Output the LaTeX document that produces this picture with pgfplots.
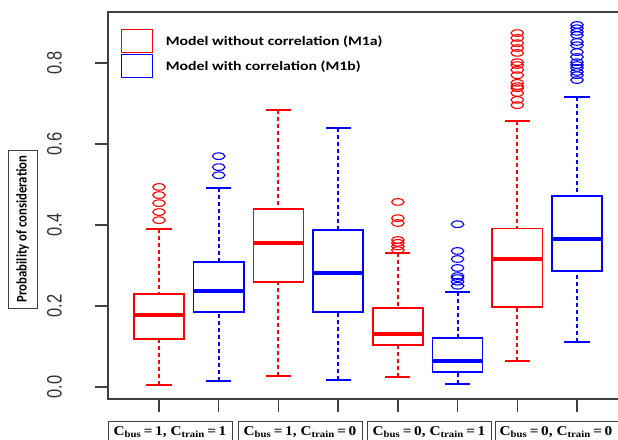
\documentclass[border=0pt]{standalone}
\usepackage{fontspec}
\setmainfont{Liberation Serif}
\newfontfamily\carlito{Carlito}
\newfontfamily\arialf{Liberation Sans}
\usepackage{graphicx}
\usepackage{pgfplots}
\pgfplotsset{compat=1.18}
\usepgfplotslibrary{statistics}
\pgfplotsset{
  rbox/.style={draw=red, line width=1.5bp, mark=o, mark size=3.3bp,
    mark options={solid, xscale=1.9, line width=1.1bp}, forget plot},
  bbox/.style={draw=blue, line width=1.5bp, mark=o, mark size=3.3bp,
    mark options={solid, xscale=1.9, line width=1.1bp}, forget plot},
}
\begin{document}
\begin{tikzpicture}
\begin{axis}[
  at={(0,0)}, anchor=south west,
  scale only axis, width=510bp, height=387bp,
  xmin=0.146, xmax=8.687, ymin=-0.0296, ymax=0.926,
  clip=false,
  axis line style={draw=none},
  xtick={1,2,3,4,5,6,7,8}, xticklabels={},
  ytick={0,0.2,0.4,0.6,0.8},
  yticklabels={\scalebox{1}[1.27]{0.0},\scalebox{1}[1.27]{0.2},\scalebox{1}[1.27]{0.4},\scalebox{1}[1.27]{0.6},\scalebox{1}[1.27]{0.8}},
  tick pos=left, tick align=outside,
  major tick length=13bp,
  every tick/.style={line width=1.5bp, black!75},
  yticklabel style={rotate=90, anchor=south, inner sep=0pt,
    font=\arialf\fontsize{16.5}{16.5}\selectfont, text=black!80},
  yticklabel shift=33bp,
  boxplot/draw direction=y,
  boxplot/every median/.style={line width=3.5bp},
  boxplot/draw/lower whisker/.code={%
    \draw[dash pattern=on 4bp off 3bp, line width=2bp]
      (boxplot box cs:\pgfplotsboxplotvalue{lower whisker},0.5) --
      (boxplot box cs:\pgfplotsboxplotvalue{lower quartile},0.5);
    \draw[solid, line width=1.5bp]
      (boxplot whisker cs:\pgfplotsboxplotvalue{lower whisker},0) --
      (boxplot whisker cs:\pgfplotsboxplotvalue{lower whisker},1);
  },
  boxplot/draw/upper whisker/.code={%
    \draw[dash pattern=on 4bp off 3bp, line width=2bp]
      (boxplot box cs:\pgfplotsboxplotvalue{upper whisker},0.5) --
      (boxplot box cs:\pgfplotsboxplotvalue{upper quartile},0.5);
    \draw[solid, line width=1.5bp]
      (boxplot whisker cs:\pgfplotsboxplotvalue{upper whisker},0) --
      (boxplot whisker cs:\pgfplotsboxplotvalue{upper whisker},1);
  },
  legend image code/.code={\draw[#1, line width=1bp] (0bp,-11.5bp) rectangle (31bp,11.5bp); \path (44bp,0bp);},
  legend style={at={(0.0255,0.956)}, anchor=north west, draw=none, fill=none,
    inner sep=0pt, row sep=1bp, nodes={inner sep=0pt},
    font=\carlito\bfseries\fontsize{13}{15}\selectfont, cells={anchor=west}},
]
\addlegendimage{red}
\addlegendentry{\scalebox{1.22}[1]{Model without correlation (M1a)}}
\addlegendimage{blue}
\addlegendentry{\scalebox{1.22}[1]{Model with correlation (M1b)}}

\addplot[rbox, boxplot prepared={draw position=1, lower whisker=0.005, lower quartile=0.119,
  median=0.178, upper quartile=0.230, upper whisker=0.390, box extend=0.84, whisker extend=0.42}]
  table[row sep=\\, y index=0] {data\\0.494\\0.474\\0.454\\0.432\\0.412\\};
\addplot[bbox, boxplot prepared={draw position=2, lower whisker=0.015, lower quartile=0.185,
  median=0.237, upper quartile=0.309, upper whisker=0.491, box extend=0.84, whisker extend=0.42}]
  table[row sep=\\, y index=0] {data\\0.570\\0.543\\0.523\\};
\addplot[rbox, boxplot prepared={draw position=3, lower whisker=0.027, lower quartile=0.259,
  median=0.356, upper quartile=0.439, upper whisker=0.684, box extend=0.84, whisker extend=0.42}]
  coordinates {};
\addplot[bbox, boxplot prepared={draw position=4, lower whisker=0.017, lower quartile=0.185,
  median=0.281, upper quartile=0.388, upper whisker=0.640, box extend=0.84, whisker extend=0.42}]
  coordinates {};
\addplot[rbox, boxplot prepared={draw position=5, lower whisker=0.025, lower quartile=0.104,
  median=0.131, upper quartile=0.195, upper whisker=0.331, box extend=0.84, whisker extend=0.42}]
  table[row sep=\\, y index=0] {data\\0.457\\0.417\\0.405\\0.363\\0.356\\0.347\\0.338\\};
\addplot[bbox, boxplot prepared={draw position=6, lower whisker=0.007, lower quartile=0.037,
  median=0.064, upper quartile=0.121, upper whisker=0.235, box extend=0.84, whisker extend=0.42}]
  table[row sep=\\, y index=0] {data\\0.402\\0.336\\0.316\\0.294\\0.274\\0.269\\0.260\\0.250\\};
\addplot[rbox, boxplot prepared={draw position=7, lower whisker=0.064, lower quartile=0.198,
  median=0.316, upper quartile=0.392, upper whisker=0.657, box extend=0.84, whisker extend=0.42}]
  table[row sep=\\, y index=0] {data\\0.874\\0.862\\0.849\\0.837\\0.825\\0.802\\0.795\\0.783\\0.770\\0.751\\0.743\\0.738\\0.726\\0.709\\0.696\\};
\addplot[bbox, boxplot prepared={draw position=8, lower whisker=0.111, lower quartile=0.286,
  median=0.365, upper quartile=0.472, upper whisker=0.716, box extend=0.84, whisker extend=0.42}]
  table[row sep=\\, y index=0] {data\\0.894\\0.886\\0.877\\0.869\\0.852\\0.844\\0.827\\0.815\\0.802\\0.795\\0.788\\0.778\\0.770\\0.758\\};

\draw[line width=1.5bp, black!75] (rel axis cs:1,1) -- (rel axis cs:0,1) -- (rel axis cs:0,0) -- (rel axis cs:1,0);
\end{axis}

% x category labels
\begin{scope}[line width=1bp, black!75]
\draw (0bp,-22bp) rectangle (124bp,-50bp);
\draw (130bp,-22bp) rectangle (254bp,-50bp);
\draw (259bp,-22bp) rectangle (383bp,-50bp);
\draw (387bp,-22bp) rectangle (511bp,-50bp);
\end{scope}
\begin{scope}[every node/.style={anchor=base, inner sep=0pt, font=\bfseries\fontsize{13.5}{15}\selectfont}]
\node at (62bp,-36bp) {\scalebox{1.14}[1]{C\textsubscript{bus}\,=\,1, C\textsubscript{train}\,=\,1}};
\node at (192bp,-36bp) {\scalebox{1.14}[1]{C\textsubscript{bus}\,=\,1, C\textsubscript{train}\,=\,0}};
\node at (321bp,-36bp) {\scalebox{1.14}[1]{C\textsubscript{bus}\,=\,0, C\textsubscript{train}\,=\,1}};
\node at (448bp,-36bp) {\scalebox{1.14}[1]{C\textsubscript{bus}\,=\,0, C\textsubscript{train}\,=\,0}};
\end{scope}

% y label
\draw[line width=0.8bp, black!75] (-100bp,91bp) rectangle (-71bp,249bp);
\node[rotate=90, inner sep=0pt, font=\carlito\bfseries\fontsize{12.8}{14}\selectfont] at (-85.5bp,170bp) {\scalebox{1}[1.15]{Probability of consideration}};

\pgfresetboundingbox
\path[use as bounding box] (-108bp,-41bp) rectangle (510bp,399bp);
\end{tikzpicture}
\end{document}
